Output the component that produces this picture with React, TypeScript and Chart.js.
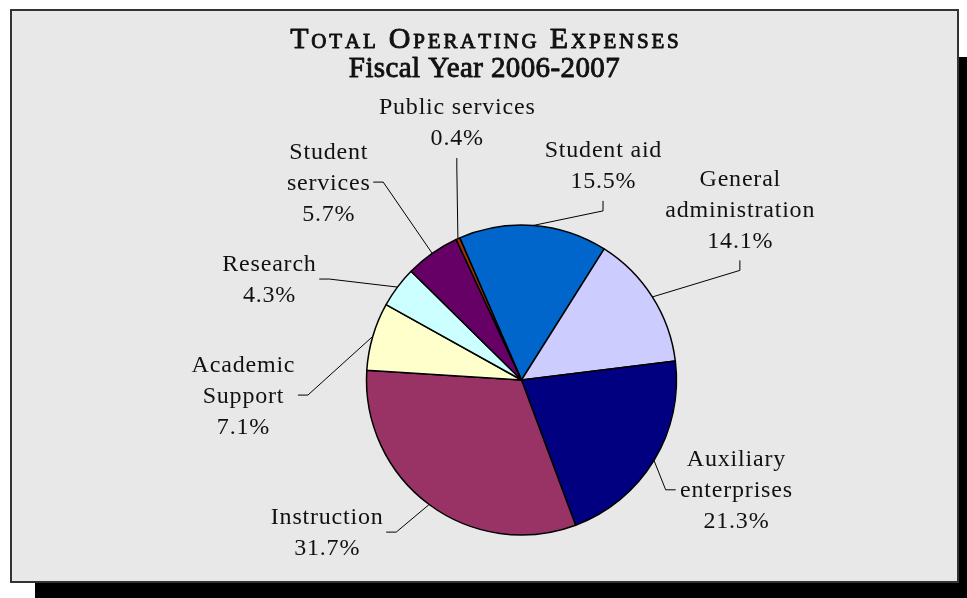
import { useEffect, useRef } from "react";
import { Chart, ArcElement, PieController } from "chart.js";

Chart.register(ArcElement, PieController);

// ---- data ----
const TITLE = "Total Operating Expenses";
const SUBTITLE = "Fiscal Year 2006-2007";
const CATEGORIES: string[][] = [
  ["Student aid"],
  ["General", "administration"],
  ["Auxiliary", "enterprises"],
  ["Instruction"],
  ["Academic", "Support"],
  ["Research"],
  ["Student", "services"],
  ["Public services"],
];
const VALUES: number[] = [15.5, 14.1, 21.3, 31.7, 7.1, 4.3, 5.7, 0.4];
const COLORS: string[] = [
  "#0066CC",
  "#CCCCFF",
  "#000080",
  "#993366",
  "#FFFFCC",
  "#CCFFFF",
  "#660066",
  "#993300",
];

// ---- label layout (polar, relative to the pie centre / outer radius) ----
const LABEL_ANGLE: number[] = [20.8, 52.0, 117.1, 232.0, 266.9, 291.8, 315.7, 345.9];
const LABEL_DIST: number[] = [1.481, 1.788, 1.555, 1.594, 1.799, 1.754, 1.784, 1.713];
const LABEL_JOIN: string[] = ["bottom", "bottom", "left", "right", "right", "right", "right", "bottom"];

const FAMILY = "'Liberation Serif', 'Times New Roman', serif";
const LABEL_SIZE = 24;
const LINE_H = 31;

function drawSmallCaps(ctx: any, text: string, cx: number, baseline: number, big: number, small: number, spacing: number) {
  const segs: { ch: string; size: number; w: number }[] = [];
  for (const ch of text) {
    const upper = ch === ch.toUpperCase() && ch !== ch.toLowerCase();
    const size = upper || ch === " " ? big : small;
    ctx.font = `${size}px ${FAMILY}`;
    const c = ch.toUpperCase();
    segs.push({ ch: c, size, w: ctx.measureText(c).width });
  }
  const total = segs.reduce((s, g) => s + g.w + spacing, 0) - spacing;
  let x = cx - total / 2;
  ctx.textAlign = "left";
  ctx.textBaseline = "alphabetic";
  for (const g of segs) {
    ctx.font = `${g.size}px ${FAMILY}`;
    ctx.fillText(g.ch, x, baseline);
    ctx.strokeText(g.ch, x, baseline);
    x += g.w + spacing;
  }
}

const labelPlugin = {
  id: "outerLabels",
  afterDraw(chart: any) {
    const ctx = chart.ctx;
    ctx.save();
    ctx.fillStyle = "#111";
    ctx.strokeStyle = "#111";

    // title
    const tx = chart.width / 2 + 1;
    ctx.lineWidth = 0.9;
    ctx.lineJoin = "round";
    drawSmallCaps(ctx, TITLE, tx, 47.5, 30, 21, 2.8);
    ctx.font = `29px ${FAMILY}`;
    ctx.textAlign = "center";
    (ctx as any).letterSpacing = "0.4px";
    ctx.fillText(SUBTITLE, tx, 76.5);
    ctx.strokeText(SUBTITLE, tx, 76.5);

    // labels + leader lines
    const meta = chart.getDatasetMeta(0);
    ctx.font = `${LABEL_SIZE}px ${FAMILY}`;
    (ctx as any).letterSpacing = "0.8px";
    meta.data.forEach((arc: any, i: number) => {
      const p = arc.getProps(["x", "y", "startAngle", "endAngle", "outerRadius"], true);
      const mid = (p.startAngle + p.endAngle) / 2;
      const ex = p.x + Math.cos(mid) * p.outerRadius;
      const ey = p.y + Math.sin(mid) * p.outerRadius;
      const a = (LABEL_ANGLE[i] * Math.PI) / 180;
      const d = p.outerRadius * LABEL_DIST[i];
      const cx = p.x + Math.sin(a) * d;
      const cy = p.y - Math.cos(a) * d;
      const lines = [...CATEGORIES[i], VALUES[i].toFixed(1) + "%"];
      const w = Math.max(...lines.map((l) => ctx.measureText(l).width));
      const n = lines.length;
      const top = cy - ((n - 1) / 2) * LINE_H;
      ctx.textAlign = "center";
      ctx.textBaseline = "alphabetic";
      lines.forEach((l, k) => {
        ctx.fillText(l, cx + 0.4, top + k * LINE_H + LABEL_SIZE * 0.31);
      });

      ctx.beginPath();
      ctx.lineWidth = 1;
      ctx.strokeStyle = "#000";
      ctx.moveTo(ex, ey);
      const join = LABEL_JOIN[i];
      if (join === "bottom") {
        const y1 = cy + ((n - 1) / 2) * LINE_H + 20;
        ctx.lineTo(cx, y1 + 10);
        ctx.lineTo(cx, y1);
      } else if (join === "left") {
        const x1 = cx - w / 2 - 4;
        ctx.lineTo(x1 - 10, cy);
        ctx.lineTo(x1, cy);
      } else {
        const x1 = cx + w / 2 + 3;
        ctx.lineTo(x1 + 10, cy);
        ctx.lineTo(x1, cy);
      }
      ctx.stroke();
    });
    ctx.restore();
  },
};

export default function App() {
  const ref = useRef<HTMLCanvasElement | null>(null);
  useEffect(() => {
    if (!ref.current) return;
    const chart = new Chart(ref.current, {
      type: "pie",
      data: {
        labels: CATEGORIES,
        datasets: [
          {
            data: VALUES,
            backgroundColor: COLORS,
            borderColor: "#000",
            borderWidth: 1.5,
            radius: 155,
          } as any,
        ],
      },
      options: {
        responsive: false,
        animation: false,
        rotation: -23.5,
        radius: 155,
        layout: { padding: { top: 200, bottom: 38, left: 300, right: 224 } },
        plugins: {
          legend: { display: false },
          tooltip: { enabled: false },
          title: { display: false },
        },
      } as any,
      plugins: [labelPlugin],
    });
    return () => chart.destroy();
  }, []);

  return (
    <div
      style={{
        position: "fixed",
        left: 0,
        top: 0,
        width: 967,
        height: 598,
        overflow: "hidden",
        background: "#fff",
      }}
    >
      <div style={{ position: "absolute", left: 35, top: 57, width: 940, height: 560, background: "#000" }} />
      <div
        style={{
          position: "absolute",
          left: 10,
          top: 9,
          width: 949,
          height: 574,
          boxSizing: "border-box",
          border: "2px solid #333",
          background: "#e8e8e8",
        }}
      />
      <canvas ref={ref} width={967} height={598} style={{ position: "absolute", left: 0, top: 0, display: "block" }} />
    </div>
  );
}
